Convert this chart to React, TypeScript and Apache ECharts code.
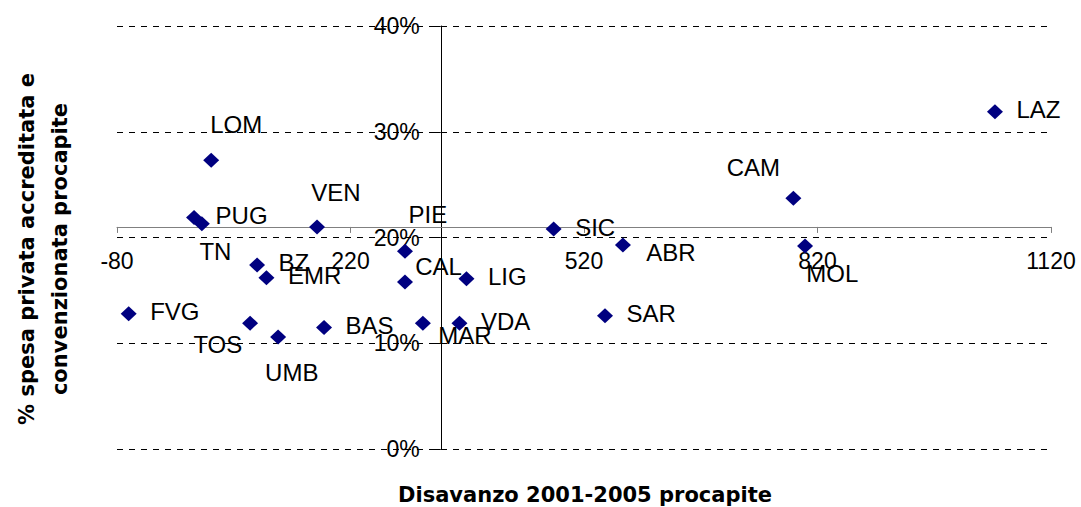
import React, { useEffect, useRef } from "react";
import * as echarts from "echarts";

// ---- data ----
const regions = ["LAZ", "CAM", "MOL", "SIC", "ABR", "SAR", "LIG", "VDA", "MAR", "PIE", "CAL", "PUG", "TN", "VEN", "LOM", "BZ", "EMR", "FVG", "TOS", "UMB", "BAS"];
const disavanzo = [1048, 789, 804, 481, 570, 547, 369, 360, 313, 290, 290, 19, 29, 177, 41, 100, 112, -65, 91, 127, 186];
const spesaPrivata = [31.9, 23.7, 19.2, 20.8, 19.3, 12.6, 16.1, 11.9, 11.9, 18.7, 15.8, 21.9, 21.3, 21.0, 27.3, 17.4, 16.2, 12.8, 11.9, 10.6, 11.5];
const xTicks = [-80, 220, 520, 820, 1120];
const yTicks = [0, 10, 20, 30, 40];
const xCross = 336; // x value where the vertical axis crosses
const yCross = 21; // y value where the horizontal axis crosses

// label placement (pixels: left edge / vertical centre relative to the point)
const defaultShift: [number, number] = [21.5, -2];
const labelShift: Record<string, [number, number]> = {
  CAM: [-66.6, -31.2],
  MOL: [1.3, 27.8],
  ABR: [23.4, 7.2],
  MAR: [15.3, 12],
  PIE: [3.6, -36.7],
  CAL: [10.3, -15.9],
  TN: [-2.4, 28.2],
  VEN: [-5.7, -34.2],
  LOM: [-1, -36.1],
  TOS: [-56.7, 20.9],
  UMB: [-13, 35.8],
};

const FONT = "Liberation Sans, Arial, sans-serif";
const MARK = 16;
const GRID = { left: 117, top: 26, width: 934, height: 423 };

export default function App() {
  const ref = useRef<HTMLDivElement>(null);
  useEffect(() => {
    if (!ref.current) return;
    const chart = echarts.init(ref.current, null, { renderer: "svg" });
    const xMin = xTicks[0];
    const xMax = xTicks[xTicks.length - 1];
    const yMin = yTicks[0];
    const yMax = yTicks[yTicks.length - 1];
    // shift the axes inside the grid so they cross at (xCross, yCross)
    const xAxisOffset = -((yCross - yMin) / (yMax - yMin)) * GRID.height;
    const yAxisOffset = -((xCross - xMin) / (xMax - xMin)) * GRID.width;
    const data = regions.map((name, i) => {
      const s = labelShift[name] || defaultShift;
      return {
        name,
        value: [disavanzo[i], spesaPrivata[i]],
        label: { position: "right", distance: 0, offset: [s[0] - MARK / 2, s[1]] },
      };
    });
    chart.setOption({
      animation: false,
      backgroundColor: "#ffffff",
      grid: { ...GRID, containLabel: false, outerBoundsMode: "none" },
      xAxis: {
        type: "value",
        min: xMin,
        max: xMax,
        position: "bottom",
        offset: xAxisOffset,
        axisLine: { show: true, onZero: false, lineStyle: { color: "#808080", width: 1 } },
        axisTick: { show: true, inside: false, length: 6, customValues: xTicks, lineStyle: { color: "#808080" } },
        axisLabel: {
          customValues: xTicks,
          formatter: (v: number) => String(v),
          margin: 23,
          color: "#000",
          fontSize: 23,
          fontFamily: FONT,
          showMinLabel: true,
          showMaxLabel: true,
        },
        splitLine: { show: false },
      },
      yAxis: {
        type: "value",
        min: yMin,
        max: yMax,
        interval: 10,
        position: "left",
        offset: yAxisOffset,
        axisLine: { show: true, onZero: false, lineStyle: { color: "#000", width: 1 } },
        axisTick: { show: true, inside: false, length: 6, lineStyle: { color: "#000" } },
        axisLabel: { formatter: "{value}%", margin: 21, color: "#000", fontSize: 23, fontFamily: FONT },
        splitLine: { show: true, lineStyle: { color: "#000", width: 1, type: [6, 6] } },
      },
      series: [
        {
          type: "scatter",
          symbol: "diamond",
          symbolSize: [MARK, 15],
          itemStyle: { color: "#000080", opacity: 1 },
          label: {
            show: true,
            formatter: "{b}",
            color: "#000",
            fontSize: 24,
            fontFamily: FONT,
          },
          data,
        },
      ],
      graphic: [
        {
          type: "text",
          x: 585,
          y: 494.5,
          style: {
            text: "Disavanzo 2001-2005 procapite",
            fontSize: 21,
            fontWeight: "bold",
            fontFamily: "DejaVu Sans, sans-serif",
            fill: "#000",
            align: "center",
            verticalAlign: "middle",
            textAlign: "center",
            textVerticalAlign: "middle",
          },
        },
        {
          type: "text",
          x: 43,
          y: 249,
          rotation: Math.PI / 2,
          style: {
            text: "% spesa privata accreditata e\nconvenzionata procapite",
            fontSize: 21,
            fontWeight: "bold",
            fontFamily: "DejaVu Sans, sans-serif",
            lineHeight: 33,
            fill: "#000",
            align: "center",
            verticalAlign: "middle",
            textAlign: "center",
            textVerticalAlign: "middle",
          },
        },
      ],
    });
    return () => chart.dispose();
  }, []);
  return <div ref={ref} style={{ position: "absolute", left: 0, top: 0, width: 1081, height: 507 }} />;
}
